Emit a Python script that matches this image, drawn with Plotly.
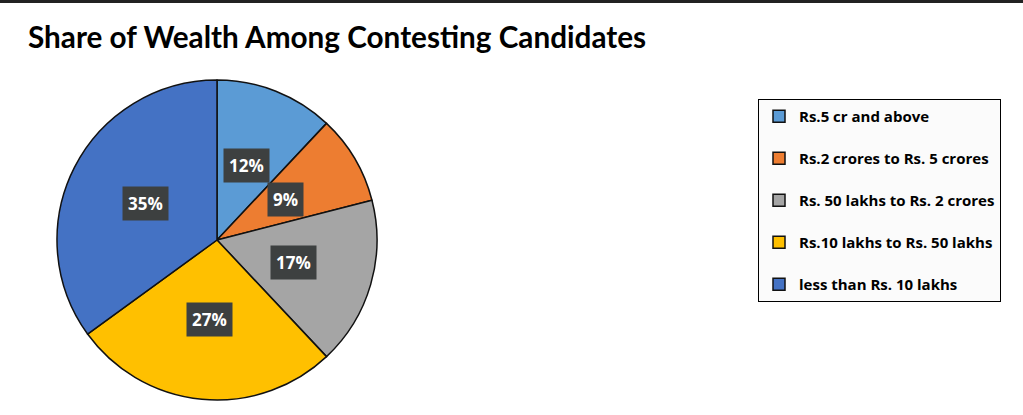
import math
import plotly.graph_objects as go

# data
categories = [
    "Rs.5 cr and above",
    "Rs.2 crores to Rs. 5 crores",
    "Rs. 50 lakhs to Rs. 2 crores",
    "Rs.10 lakhs to Rs. 50 lakhs",
    "less than Rs. 10 lakhs",
]
shares = [12, 9, 17, 27, 35]
colors = ["#5B9BD5", "#ED7D31", "#A5A5A5", "#FFC000", "#4472C4"]

W, H = 1023, 415
cx, cy, R = 217, 240, 160   # pie centre / radius in pixels

dom_x = [(cx - R) / W, (cx + R) / W]
dom_y = [(H - cy - R) / H, (H - cy + R) / H]

# blank line in front of every entry but the first spreads the legend out
legend_labels = [c if i == 0 else "<br>" + c for i, c in enumerate(categories)]

fig = go.Figure()
fig.add_trace(go.Pie(
    labels=legend_labels,
    values=shares,
    sort=False,
    direction="clockwise",
    rotation=0,
    marker=dict(colors=colors, line=dict(color="#111111", width=1.5)),
    textinfo="none",
    hoverinfo="label+percent",
    domain=dict(x=dom_x, y=dom_y),
))

# dark label boxes half way out along the middle of each slice
total = sum(shares)
annotations = []
acc = 0
for v in shares:
    mid = (acc + v / 2) / total * 2 * math.pi
    acc += v
    px = cx + 0.5 * R * math.sin(mid)
    py = cy - 0.5 * R * math.cos(mid)
    annotations.append(dict(
        x=px / W, y=(H - py) / H, xref="paper", yref="paper",
        xanchor="center", yanchor="middle",
        text=f"<b>{v}%</b>", showarrow=False,
        font=dict(family="Open Sans", size=17, color="white"),
        bgcolor="#3D4040", borderpad=5,
    ))

fig.update_layout(
    width=W, height=H,
    margin=dict(l=0, r=0, t=0, b=0),
    paper_bgcolor="white",
    plot_bgcolor="white",
    title=dict(
        text="<b>Share of Wealth Among Contesting Candidates</b>",
        x=28 / W, xanchor="left", xref="paper",
        y=(H - 38) / H, yanchor="middle", yref="paper",
        font=dict(family="Lato", size=29.7, color="black"),
    ),
    legend=dict(
        x=1001 / W, y=(H - 99) / H, xanchor="right", yanchor="top",
        bgcolor="#FBFBFB", bordercolor="black", borderwidth=1,
        font=dict(family="Open Sans", size=15, color="black", weight="bold"),
        valign="bottom",
    ),
    annotations=annotations,
    shapes=[dict(type="rect", xref="paper", yref="paper",
                 x0=0, x1=1, y0=1 - 3 / H, y1=1,
                 fillcolor="#222222", line=dict(width=0))],
)

fig.write_html("out.html", config={"displayModeBar": False},
               post_script="document.body.style.margin = '0';")
